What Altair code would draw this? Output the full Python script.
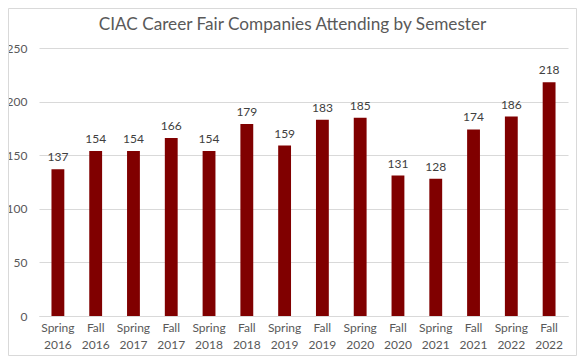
import altair as alt
import pandas as pd

semesters = ["Spring 2016", "Fall 2016", "Spring 2017", "Fall 2017", "Spring 2018",
             "Fall 2018", "Spring 2019", "Fall 2019", "Spring 2020", "Fall 2020",
             "Spring 2021", "Fall 2021", "Spring 2022", "Fall 2022"]
companies = [137, 154, 154, 166, 154, 179, 159, 183, 185, 131, 128, 174, 186, 218]
title_text = "CIAC Career Fair Companies Attending by Semester"

df = pd.DataFrame({"semester": semesters, "companies": companies})

FONT = "Lato"
W, H = 529, 268
PL, PT, PR, PB = 31, 40, 9, 40

x = alt.X("semester:N", sort=semesters, title=None,
          scale=alt.Scale(paddingInner=0.66, paddingOuter=0.33),
          axis=alt.Axis(labelAngle=0, labelExpr="split(datum.label, ' ')",
                        labelFont=FONT, labelFontSize=12, labelColor="#595959",
                        labelPadding=6, ticks=False, domainColor="#D9D9D9",
                        labelLineHeight=17, grid=False))
y = alt.Y("companies:Q", title=None,
          scale=alt.Scale(domain=[0, 250], nice=False),
          axis=alt.Axis(values=[0, 50, 100, 150, 200, 250], labelFont=FONT,
                        labelFontSize=12, labelColor="#595959", ticks=False,
                        domain=False, gridColor="#D9D9D9", labelPadding=12))

bars = alt.Chart(df).mark_bar(color="#800000").encode(x=x, y=y)
labels = alt.Chart(df).mark_text(baseline="bottom", dy=-5, font=FONT, fontSize=12,
                                 color="#404040").encode(x=x, y=y, text="companies:Q")

title = alt.Chart(pd.DataFrame({"t": [title_text]})).mark_text(
    font=FONT, fontSize=17.2, color="#595959", align="center", baseline="middle"
).encode(text="t:N", x=alt.value((PL + W + PR) / 2 - PL), y=alt.value(25 - 8 - PT))

border = alt.Chart(pd.DataFrame({"t": [1]})).mark_rect(
    fill=None, stroke="#D9D9D9", strokeWidth=1
).encode(x=alt.value(-PL + 0.5), x2=alt.value(W + PR - 0.5),
         y=alt.value(-PT + 0.5), y2=alt.value(H + PB - 0.5))

chart = alt.layer(border, bars, labels, title).properties(
    width=W, height=H,
    autosize=alt.AutoSizeParams(type="none"),
    padding={"left": PL, "top": PT, "right": PR, "bottom": PB},
    background="white",
).configure_view(stroke=None)

chart.save("out.html", embed_options={"renderer": "svg", "actions": False})
